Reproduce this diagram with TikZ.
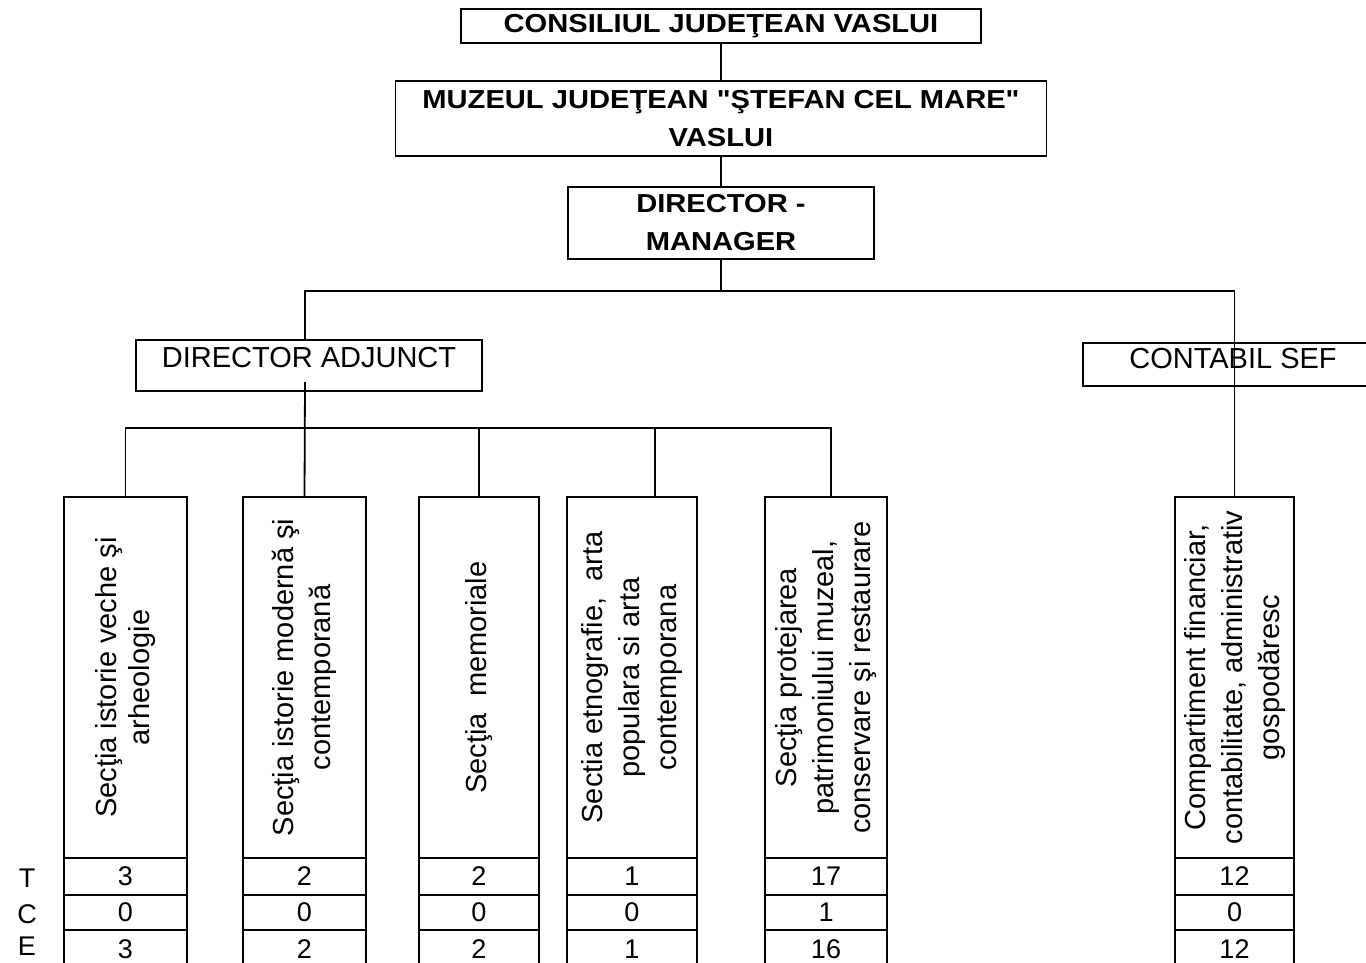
\documentclass[tikz,border=0pt]{standalone}
\usepackage{fontspec}
\setmainfont{Liberation Sans}
\newfontfamily\headfont[FakeStretch=1.12]{Liberation Sans}
\begin{document}
\begin{tikzpicture}[x=1pt,y=-1pt,line width=1.8pt,
    head/.style={draw,inner sep=0pt,align=center,font=\headfont\bfseries\fontsize{26}{38}\selectfont},
    chief/.style={draw,inner sep=0pt,font=\fontsize{29}{36}\selectfont},
    sect/.style={draw,rotate=90,inner sep=0pt,minimum width=361pt,align=center,font=\fontsize{29}{37}\selectfont},
    cell/.style={draw,inner sep=0pt,font=\fontsize{27}{30}\selectfont},
    cellT/.style={cell,minimum height=37pt},
    cellC/.style={cell,minimum height=35pt},
    cellE/.style={cell,minimum height=38pt},
    rowname/.style={inner sep=0pt,font=\fontsize{27}{30}\selectfont}]
  \fill[white] (0,0) rectangle (1366,963);
  \useasboundingbox (0,0) rectangle (1366,963);
  \draw
    (721,26) node[head,minimum width=520pt,minimum height=34pt] (cons) {CONSILIUL JUDEŢEAN VASLUI}
    (721,118.5) node[head,minimum width=651pt,minimum height=75pt] (muz) {MUZEUL JUDEŢEAN "ŞTEFAN CEL MARE"\\VASLUI}
    (721,223) node[head,minimum width=306pt,minimum height=72pt] (mgr) {DIRECTOR -\\MANAGER}
    (309,365.5) node[chief,minimum width=346pt,text height=27pt,text depth=24pt] (adj) {DIRECTOR ADJUNCT}
    (1233,364.5) node[chief,minimum width=300pt,text height=25pt,text depth=18pt] (cont) {CONTABIL SEF};
  \draw
    (125.5,677.5) node[sect,minimum height=123pt] (b1) {Secţia istorie veche şi\\[-4pt]arheologie}
    (304.5,677.5) node[sect,minimum height=123pt] (b2) {Secţia istorie modernă şi\\contemporană}
    (479,677.5) node[sect,minimum height=120pt] (b3) {Secţia~ memoriale}
    (632,677.5) node[sect,minimum height=130pt] (b4) {Sectia etnografie,~ arta\\populara si arta\\contemporana}
    (826,677.5) node[sect,minimum height=122pt] (b5) {Secţia protejarea\\patrimoniului muzeal,\\conservare şi restaurare}
    (1234.5,677.5) node[sect,minimum height=119pt] (b6) {Compartiment financiar,\\contabilitate, administrativ\\gospodăresc};
  \draw
    (27,878) node[rowname] (lT) {T}
    (27,914) node[rowname] (lC) {C}
    (27,946) node[rowname] (lE) {E};
  \draw
    (125.5,876.5) node[cellT,minimum width=123pt] (b1T) {3}
    (125.5,912.5) node[cellC,minimum width=123pt] (b1C) {0}
    (125.5,949) node[cellE,minimum width=123pt] (b1E) {3}
    (304.5,876.5) node[cellT,minimum width=123pt] (b2T) {2}
    (304.5,912.5) node[cellC,minimum width=123pt] (b2C) {0}
    (304.5,949) node[cellE,minimum width=123pt] (b2E) {2}
    (479,876.5) node[cellT,minimum width=120pt] (b3T) {2}
    (479,912.5) node[cellC,minimum width=120pt] (b3C) {0}
    (479,949) node[cellE,minimum width=120pt] (b3E) {2}
    (632,876.5) node[cellT,minimum width=130pt] (b4T) {1}
    (632,912.5) node[cellC,minimum width=130pt] (b4C) {0}
    (632,949) node[cellE,minimum width=130pt] (b4E) {1}
    (826,876.5) node[cellT,minimum width=122pt] (b5T) {17}
    (826,912.5) node[cellC,minimum width=122pt] (b5C) {1}
    (826,949) node[cellE,minimum width=122pt] (b5E) {16}
    (1234.5,876.5) node[cellT,minimum width=119pt] (b6T) {12}
    (1234.5,912.5) node[cellC,minimum width=119pt] (b6C) {0}
    (1234.5,949) node[cellE,minimum width=119pt] (b6E) {12};
  \begin{scope}[-]
    \coordinate (hubA) at (721,291);
    \coordinate (hubB) at (305,428);
    \coordinate (adjin) at (305,382);
    \draw (cons.south) to (muz.north);
    \draw (muz.south) to (mgr.north);
    \draw (mgr.south) to (hubA);
    \draw ([xshift=-4pt]adj.north) |- (hubA) -| (b6.east);
    \draw (adjin) to (b2.east);
    \draw (b1.east) |- (hubB) -| ([xshift=5pt]b5.east);
    \draw (b3.east) |- (hubB);
    \draw ([xshift=23pt]b4.east) |- (hubB);
  \end{scope}
\end{tikzpicture}
\end{document}
